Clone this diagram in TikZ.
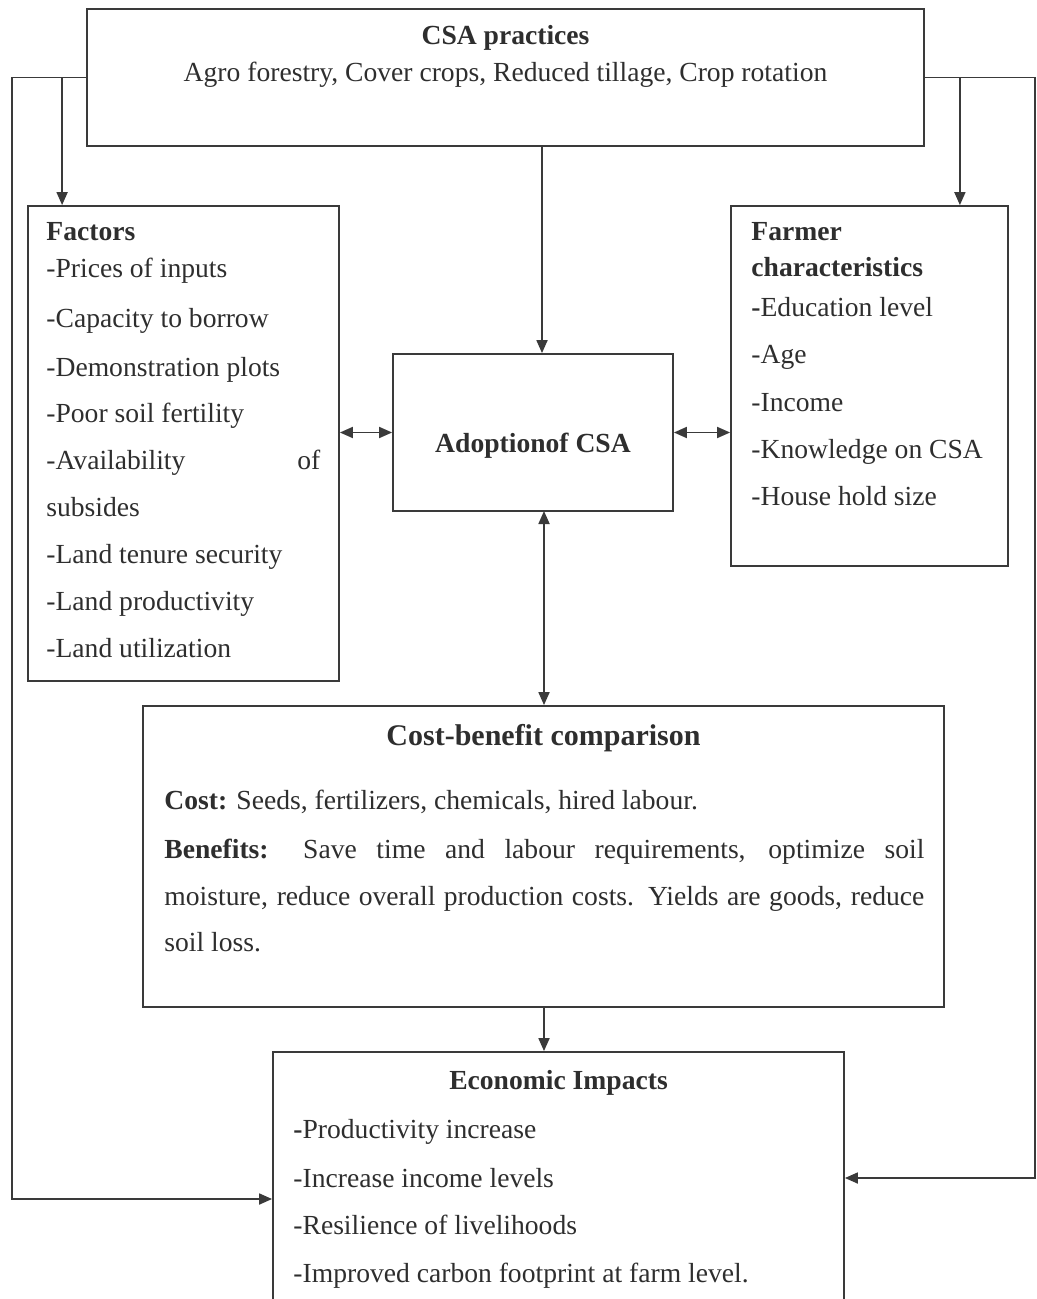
\documentclass[tikz,border=0pt]{standalone}
\usepackage{fontspec}
\setmainfont{Liberation Serif}
\usetikzlibrary{arrows.meta,calc}
\definecolor{ink}{HTML}{2E2E2E}
\definecolor{lines}{HTML}{3A3A3A}
\begin{document}
\begin{tikzpicture}[x=0.5pt,y=-0.5pt,
  box/.style={draw=lines,line width=0.9pt,rectangle,inner sep=0pt},
  conn/.style={draw=lines,line width=0.9pt},
  tip/.style={conn,-{Triangle[length=6.5pt,width=5.5pt]}},
  tips/.style={conn,{Triangle[length=6.5pt,width=5.5pt]}-{Triangle[length=6.5pt,width=5.5pt]}},
  txt/.style={anchor=base west,inner sep=0pt,text=ink,font=\fontsize{13.8pt}{16pt}\selectfont},
  ctxt/.style={anchor=base,inner sep=0pt,text=ink,font=\fontsize{13.8pt}{16pt}\selectfont}]
\useasboundingbox (0,0) rectangle (1037,1299);
\clip (0,0) rectangle (1037,1299);
% boxes
\node[box,minimum width=418.5pt,minimum height=68.5pt] (csa) at (505.5,77.5) {};
\node[box,minimum width=155.5pt,minimum height=237.5pt] (fac) at (183.5,443.5) {};
\node[box,minimum width=140pt,minimum height=78.5pt] (adopt) at (533,432.5) {};
\node[box,minimum width=138.5pt,minimum height=180pt] (farm) at (869.5,386) {};
\node[box,minimum width=400.5pt,minimum height=150.5pt] (cost) at (543.5,856.5) {};
\node[box,minimum width=285.5pt,minimum height=139pt] (econ) at (558.5,1191) {};
% texts: CSA
\node[ctxt] (t1) at (505.5,45) {\textbf{CSA practices}};
\node[ctxt] (t2) at (505.5,82) {Agro forestry, Cover crops, Reduced tillage, Crop rotation};
% Factors
\node[txt] (f0) at (46,241) {\textbf{Factors}};
\node[txt] (f1) at (46,278) {-Prices of inputs};
\node[txt] (f2) at (46,328) {-Capacity to borrow};
\node[txt] (f3) at (46,376) {-Demonstration plots};
\node[txt] (f4) at (46,422) {-Poor soil fertility};
\node[txt,text width=137pt] (f5) at (46,469) {-Availability\hfill of};
\node[txt] (f6) at (46,516) {subsides};
\node[txt] (f7) at (46,563) {-Land tenure security};
\node[txt] (f8) at (46,610) {-Land productivity};
\node[txt] (f9) at (46,657) {-Land utilization};
% Farmer
\node[txt] (m0) at (751,241) {\textbf{Farmer}};
\node[txt] (m1) at (751,277) {\textbf{characteristics}};
\node[txt] (m2) at (751,316) {\textbf{-}Education level};
\node[txt] (m3) at (751,364) {-Age};
\node[txt] (m4) at (751,411) {-Income};
\node[txt] (m5) at (751,458) {-Knowledge on CSA};
\node[txt] (m6) at (751,505) {-House hold size};
% Adoption
\node[ctxt] (a1) at (533,452) {\textbf{Adoptionof CSA}};
% Cost-benefit
\node[ctxt,font=\fontsize{15pt}{18pt}\selectfont] (c0) at (543.5,745) {\textbf{Cost-benefit comparison}};
\node[txt] (c1) at (164,809) {\textbf{Cost:} Seeds, fertilizers, chemicals, hired labour.};
\node[txt] (c2) at (164,858) {\makebox[380pt][s]{\textbf{Benefits:} Save time and labour requirements, optimize soil}};
\node[txt] (c3) at (164,905) {\makebox[380pt][s]{moisture, reduce overall production costs. Yields are goods, reduce}};
\node[txt] (c4) at (164,951) {soil loss.};
% Economic
\node[ctxt] (e0) at (558.5,1089) {\textbf{Economic Impacts}};
\node[txt] (e1) at (293,1138) {\textbf{-}Productivity increase};
\node[txt] (e2) at (293,1187) {-Increase income levels};
\node[txt] (e3) at (293,1234) {-Resilience of livelihoods};
\node[txt] (e4) at (293,1282) {-Improved carbon footprint at farm level.};
% connectors
\coordinate (LB) at (12,1199);
\coordinate (lb) at ($(csa.west)+(-24,0)$);
\coordinate (RB) at (1035,1178);
\coordinate (rb) at ($(csa.east)+(35,0)$);
\coordinate (k1) at (542,146);
\coordinate (k2) at (544,511);
\coordinate (k3) at (544,1007);
\draw[tip] (csa.west) -| (LB) -- (LB -| econ.west);
\draw[tip] (lb) -- (lb |- fac.north);
\draw[tip] (csa.east) -| (RB) -- (RB -| econ.east);
\draw[tip] (rb) -- (rb |- farm.north);
\draw[tip] (k1) -- (k1 |- adopt.north);
\draw[tips] (adopt.west -| fac.east) -- (adopt.west);
\draw[tips] (adopt.east) -- (adopt.east -| farm.west);
\draw[tips] (k2) -- (k2 |- cost.north);
\draw[tip] (k3) -- (k3 |- econ.north);
\end{tikzpicture}
\end{document}
